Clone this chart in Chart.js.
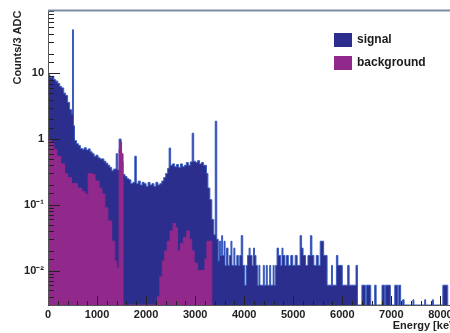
<!DOCTYPE html>
<html>
<head>
<meta charset="utf-8">
<script src="https://cdn.jsdelivr.net/npm/chart.js@4.4.1/dist/chart.umd.min.js"></script>
<style>
html, body { margin: 0; padding: 0; background: #fff; overflow: hidden; }
#wrap { width: 460px; height: 333px; }
</style>
</head>
<body>
<div id="wrap"><canvas id="spectrum" width="460" height="333"></canvas></div>
<script>
// histogram bins: lower edge in keV, value = counts / 3 ADC (0 = empty bin)
const sigEdges = [
  0, 40, 80, 120, 160, 200, 240, 280, 320, 360, 400, 440, 480, 500, 520, 540, 580, 620, 660, 700,
  740, 780, 820, 860, 900, 940, 980, 1020, 1060, 1100, 1140, 1180, 1220, 1260, 1300, 1340, 1390, 1420, 1450, 1490,
  1530, 1570, 1610, 1650, 1690, 1730, 1770, 1800, 1840, 1880, 1920, 1960, 2000, 2040, 2080, 2120, 2160, 2200, 2240, 2280,
  2320, 2360, 2400, 2440, 2470, 2500, 2540, 2580, 2620, 2660, 2700, 2740, 2780, 2820, 2860, 2900, 2940, 2970, 3010, 3050,
  3090, 3130, 3170, 3230, 3260, 3300, 3340, 3380, 3410, 3440, 3470, 3490, 3520, 3540, 3560, 3590, 3610, 3640, 3670, 3700,
  3730, 3750, 3790, 3810, 3850, 3880, 3910, 3940, 3970, 4010, 4040, 4070, 4100, 4120, 4160, 4190, 4210, 4240, 4270, 4300,
  4320, 4390, 4410, 4450, 4470, 4520, 4540, 4590, 4610, 4640, 4670, 4700, 4740, 4770, 4790, 4830, 4860, 4900, 4950, 4990,
  5040, 5080, 5140, 5170, 5200, 5250, 5300, 5350, 5380, 5420, 5470, 5510, 5550, 5620, 5690, 5780, 5800, 5880, 5910, 6000,
  6110, 6140, 6280, 6310, 6400, 6470, 6490, 6580, 6660, 6690, 6810, 6860, 6880, 6980, 7070, 7130, 7150, 7190, 7230, 7260,
  7440, 7460, 7680, 7700, 7840, 7860, 8050, 8150
];
const sigCounts = [
  9.5, 8.6, 9.0, 8.0, 7.6, 7.0, 6.3, 6.0, 5.0, 4.6, 3.6, 2.8, 2.4, 46, 1.6, 0.95, 0.85, 0.80, 0.72, 0.70,
  0.74, 0.68, 0.71, 0.64, 0.60, 0.55, 0.57, 0.52, 0.50, 0.50, 0.46, 0.43, 0.40, 0.37, 0.33, 0.35, 0.60, 0.34, 1.0, 0.45,
  0.29, 0.27, 0.25, 0.24, 0.21, 0.22, 0.55, 0.21, 0.23, 0.20, 0.22, 0.21, 0.19, 0.22, 0.20, 0.21, 0.19, 0.22, 0.20, 0.21,
  0.23, 0.26, 0.30, 0.36, 0.73, 0.40, 0.42, 0.38, 0.41, 0.37, 0.42, 0.38, 0.40, 0.44, 0.40, 0.45, 1.23, 0.46, 0.44, 0.47,
  0.42, 0.44, 0.40, 0.30, 0.18, 0.12, 0.06, 0.035, 1.87, 0.030, 0.014, 0.028, 0.017, 0.034, 0.017, 0.028, 0.012, 0.022, 0.012, 0.017,
  0.028, 0.012, 0.022, 0.012, 0.017, 0.012, 0.017, 0.034, 0.012, 0.006, 0.012, 0.017, 0.022, 0.017, 0.012, 0.022, 0.017, 0.012, 0.006, 0.012,
  0.006, 0.012, 0.006, 0.012, 0.006, 0.012, 0.006, 0.012, 0.006, 0.012, 0.022, 0.017, 0.012, 0.022, 0.017, 0.012, 0.017, 0.012, 0.017, 0.012,
  0.017, 0.012, 0.034, 0.022, 0.017, 0.012, 0.017, 0.034, 0.017, 0.012, 0.017, 0.012, 0.028, 0.017, 0.006, 0.012, 0.006, 0.017, 0.012, 0.006,
  0.012, 0.006, 0.012, 0, 0.006, 0, 0.006, 0, 0.006, 0, 0.006, 0, 0.006, 0, 0.006, 0, 0.006, 0, 0.0036, 0,
  0.0036, 0, 0.0036, 0, 0.0036, 0, 0.006, 0
];

const bkgEdges = [
  0, 60, 120, 180, 260, 340, 400, 480, 600, 690, 750, 800, 820, 900, 960, 1040, 1100, 1160, 1220, 1300,
  1360, 1400, 1450, 1475, 1500, 1530, 2230, 2280, 2330, 2380, 2430, 2490, 2550, 2600, 2640, 2700, 2760, 2830, 2880, 2930,
  2980, 3050, 3120, 3200, 3240, 3340
];
const bkgCounts = [
  1.0, 0.87, 0.70, 0.55, 0.42, 0.30, 0.26, 0.21, 0.18, 0.16, 0.146, 0.115, 0.30, 0.29, 0.23, 0.18, 0.146, 0.09, 0.057, 0.028,
  0.014, 0.011, 0.7, 0.9, 0.6, 0, 0.004, 0.008, 0.014, 0.02, 0.028, 0.04, 0.052, 0.045, 0.02, 0.026, 0.032, 0.04, 0.03, 0.02,
  0.013, 0.01, 0.01, 0.015, 0.028, 0
];

const seriesNames = ['signal', 'background'];
const xTickValues = [0, 1000, 2000, 3000, 4000, 5000, 6000, 7000, 8000];
const yTickValues = [0.01, 0.1, 1, 10];
const yTickLabels = ['10⁻²', '10⁻¹', '1', '10'];
const yMin = 0.003;
const yMax = 90;

const signalFill = '#2b2e8c';
const bkgFill = '#91288c';

// empty bins sit on the axis floor (log scale cannot take 0)
function toSteps(edges, counts) {
  return edges.map((e, i) => ({ x: e, y: counts[i] > 0 ? counts[i] : yMin }));
}

// ROOT-style frame, inner ticks and legend
const rootFrame = {
  id: 'rootFrame',
  afterDatasetsDraw(chart) {
    const { ctx, chartArea: a, scales: { x, y } } = chart;
    ctx.save();
    ctx.strokeStyle = '#222';
    ctx.lineWidth = 1;
    y.ticks.forEach(t => {
      const p = Math.log10(t.value);
      const major = Math.abs(p - Math.round(p)) < 1e-6;
      const py = Math.round(y.getPixelForValue(t.value)) + 0.5;
      ctx.beginPath();
      ctx.moveTo(a.left, py);
      ctx.lineTo(a.left + (major ? 12 : 6), py);
      ctx.stroke();
    });
    for (let e = 0; e <= 8400; e += 200) {
      const px = Math.round(x.getPixelForValue(e)) + 0.5;
      ctx.beginPath();
      ctx.moveTo(px, a.bottom);
      ctx.lineTo(px, a.bottom - (e % 1000 === 0 ? 9 : 4));
      ctx.stroke();
    }
    ctx.strokeStyle = '#555';
    ctx.beginPath();
    ctx.moveTo(a.left + 0.5, a.top);
    ctx.lineTo(a.left + 0.5, a.bottom + 0.5);
    ctx.lineTo(a.right, a.bottom + 0.5);
    ctx.stroke();
    ctx.strokeStyle = '#7d8aa6';
    ctx.lineWidth = 2;
    ctx.beginPath();
    ctx.moveTo(a.left, a.top);
    ctx.lineTo(a.right, a.top);
    ctx.stroke();

    // legend
    const colors = [signalFill, bkgFill];
    ctx.font = 'bold 12px "Liberation Sans", Arial, sans-serif';
    ctx.textBaseline = 'middle';
    seriesNames.forEach((name, i) => {
      const top = 33 + i * 23;
      ctx.fillStyle = colors[i];
      ctx.fillRect(334, top, 18, 14);
      ctx.fillStyle = '#1a1a1a';
      ctx.fillText(name, 357, top + 7);
    });
    ctx.restore();
  }
};

Chart.defaults.font.family = '"Liberation Sans", Arial, sans-serif';
Chart.defaults.font.size = 11;
Chart.defaults.font.weight = 'bold';
Chart.defaults.color = '#222';

new Chart(document.getElementById('spectrum'), {
  type: 'line',
  data: {
    datasets: [
      {
        label: seriesNames[1],
        data: toSteps(bkgEdges, bkgCounts),
        stepped: 'before',
        borderColor: bkgFill,
        backgroundColor: bkgFill,
        borderWidth: 1,
        pointRadius: 0,
        fill: 'start',
        order: 0
      },
      {
        label: seriesNames[0],
        data: toSteps(sigEdges, sigCounts),
        stepped: 'before',
        borderColor: '#3a5cc2',
        backgroundColor: signalFill,
        borderWidth: 1,
        pointRadius: 0,
        fill: 'start',
        order: 1
      }
    ]
  },
  options: {
    responsive: false,
    animation: false,
    devicePixelRatio: 1,
    layout: { padding: { top: 8, right: 0, left: 0, bottom: 0 } },
    plugins: { legend: { display: false }, tooltip: { enabled: false } },
    scales: {
      x: {
        type: 'linear',
        min: 0,
        max: 8400,
        grid: { display: false, drawTicks: false },
        border: { display: false },
        afterBuildTicks: s => { s.ticks = xTickValues.map(v => ({ value: v })); },
        ticks: { padding: 3, maxRotation: 0, autoSkip: false, color: '#222', callback: v => String(v) },
        title: { display: true, text: 'Energy [keV]', align: 'end', padding: { top: 0, bottom: 0 }, color: '#222' },
        afterFit: s => { s.height = 28; }
      },
      y: {
        type: 'logarithmic',
        min: yMin,
        max: yMax,
        grid: { display: false, drawTicks: false },
        border: { display: false },
        ticks: {
          autoSkip: false,
          padding: 4,
          color: '#222',
          callback: v => {
            const i = yTickValues.findIndex(t => Math.abs(t - v) / t < 1e-6);
            return i < 0 ? '' : yTickLabels[i];
          }
        },
        title: { display: true, text: 'Counts/3 ADC', align: 'end', padding: { top: 11, bottom: 0 }, color: '#222' },
        afterFit: s => { s.width = 48; }
      }
    }
  },
  plugins: [rootFrame]
});
</script>
</body>
</html>
